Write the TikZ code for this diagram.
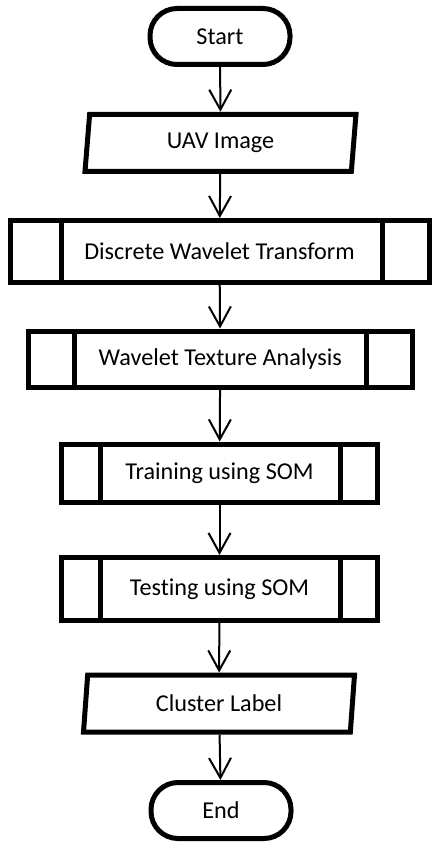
\documentclass[tikz,border=0pt]{standalone}
\usepackage{fontspec}
\setmainfont{Carlito}[Ligatures=NoCommon]
\usetikzlibrary{shapes.geometric,arrows.meta}

\tikzset{
  every node/.style={font=\fontsize{24.2}{29}\selectfont},
  border/.style={line width=5pt},
  termbox/.style={draw, border, rounded corners=27pt, minimum width=140pt, minimum height=56pt},
  iobox/.style={draw, border, trapezium, trapezium left angle=80, trapezium right angle=100,
    trapezium stretches body, minimum width=271pt, minimum height=57pt},
  procbox/.style={draw, border, rectangle},
  flow/.style={line width=2pt, -{Straight Barb[length=20pt,width=22pt]}}
}

\begin{document}
\begin{tikzpicture}[x=1pt,y=-1pt]
\useasboundingbox (0,0) rectangle (431,843);

\node[termbox] (start) at (220,36.5) {Start};
\node[iobox] (uav) at (220.5,142.75) {UAV Image};
\node[procbox, minimum width=419pt, minimum height=62pt] (dwt) at (219.5,251.5) {Discrete Wavelet Transform};
\node[procbox, minimum width=383.5pt, minimum height=56.5pt] (wta) at (220.25,359.25) {Wavelet Texture Analysis};
\node[procbox, minimum width=316pt, minimum height=58.5pt] (train) at (219.5,473.25) {Training using SOM};
\node[procbox, minimum width=316pt, minimum height=63pt] (test) at (219.5,589) {Testing using SOM};
\node[iobox] (cluster) at (219,703.5) {Cluster Label};
\node[termbox] (end) at (221,810.5) {End};

% side bars of the process boxes
\foreach \n/\l/\r in {dwt/53.5/49, wta/48.5/48.5, train/41.5/39.5, test/41.5/39.5}{
  \draw[border] ([xshift=\l pt]\n.north west) -- ([xshift=\l pt]\n.south west);
  \draw[border] ([xshift=-\r pt]\n.north east) -- ([xshift=-\r pt]\n.south east);
}

\foreach \a/\b in {start/uav, uav/dwt, dwt/wta, wta/train, train/test, test/cluster, cluster/end}
  \draw[flow] (\a) -- (\b);

\end{tikzpicture}
\end{document}
